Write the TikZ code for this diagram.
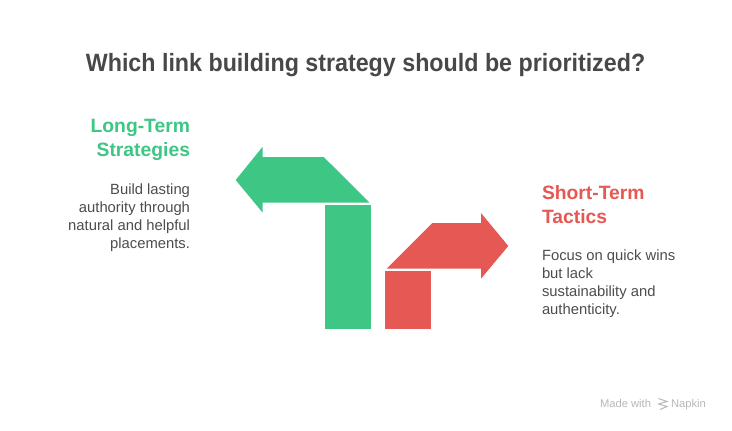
\documentclass[tikz,border=0pt]{standalone}
\usepackage{fontspec}
\setmainfont{Liberation Sans}
\newfontfamily\ttlfont[FakeStretch=0.93]{Liberation Sans}
\definecolor{dark}{HTML}{484848}
\definecolor{body}{HTML}{4D4D4D}
\definecolor{gr}{HTML}{3DC684}
\definecolor{rd}{HTML}{E65853}
\definecolor{mk}{HTML}{B8B8B8}
\tikzset{
  txt/.style={inner sep=0pt,outer sep=0pt},
  ttl/.style={txt,font=\ttlfont\fontsize{25}{30}\selectfont\bfseries,text=dark},
  hd/.style={txt,font=\fontsize{19.3}{24}\selectfont\bfseries},
  bd/.style={txt,font=\fontsize{14.8}{18}\selectfont,text=body},
  wm/.style={txt,font=\fontsize{11.2}{13}\selectfont,text=mk,anchor=base west},
}
\begin{document}
\begin{tikzpicture}[x=1pt,y=-1pt]
\useasboundingbox (0,0) rectangle (732,431);
\fill[white] (0,0) rectangle (732,431);
\node[ttl,anchor=center] (title) at (365.5,65.5) {Which link building strategy should be prioritized?};
% green
\fill[gr] (325,205) rectangle (371,329);
\fill[gr] (235.7,180) -- (262.7,146.7) -- (262.7,157) -- (323.7,157) -- (369.7,202.7) -- (262.7,202.7) -- (262.7,212.7) -- cycle;
% red
\fill[rd] (385,271) rectangle (431,329);
\fill[rd] (386.7,268.7) -- (432.3,223) -- (481,223) -- (481,213) -- (508.3,246) -- (481,278.7) -- (481,268.7) -- cycle;
% texts
\node[hd,text=gr,align=right,anchor=north east] (lh) at (190,119.5) {Long-Term\\Strategies};
\node[bd,align=right,anchor=north east] (lb) at (190,184) {Build lasting\\authority through\\natural and helpful\\placements.};
\node[hd,text=rd,align=left,anchor=north west] (rh) at (542,185.5) {Short-Term\\Tactics};
\node[bd,align=left,anchor=north west] (rb) at (542,250) {Focus on quick wins\\but lack\\sustainability and\\authenticity.};
% watermark
\node[wm] (made) at (600,407.5) {Made with};
\node[wm] (nap) at (671,407.5) {Napkin};
\draw[mk,line width=1pt] (658.5,398.5) -- (667,401.5) -- (658.5,404) -- (667,406.5) -- (660,409.5);
\end{tikzpicture}
\end{document}
